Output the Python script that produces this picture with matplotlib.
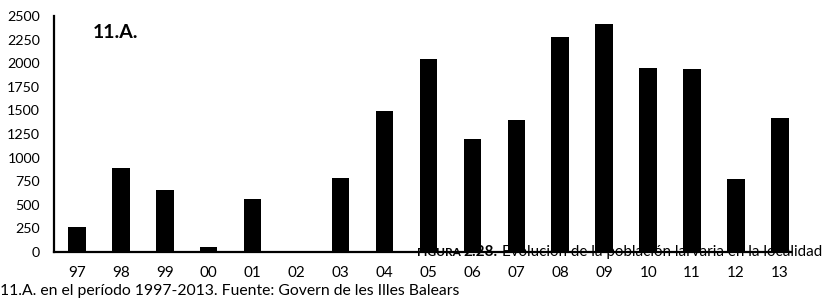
import matplotlib
matplotlib.use("Agg")
import matplotlib.pyplot as plt

categories = ["97", "98", "99", "00", "01", "02", "03", "04", "05", "06",
              "07", "08", "09", "10", "11", "12", "13"]
values = [265, 893, 653, 50, 558, 0, 781, 1494, 2041, 1200,
          1395, 2278, 2412, 1952, 1935, 773, 1419]
yticks = [0, 250, 500, 750, 1000, 1250, 1500, 1750, 2000, 2250, 2500]

FONT = "Lato"
W, H = 824, 299
fig = plt.figure(figsize=(W / 100, H / 100), dpi=100)
left, right, top, bottom = 54, 791, 16, 252
ax = fig.add_axes([left / W, 1 - bottom / H, (right - left) / W, (bottom - top) / H])
ax.patch.set_visible(False)

x = list(range(len(categories)))
ax.bar(x, values, width=0.4, color="black", zorder=3)
ax.set_xlim(-0.52, 16.25)
ax.set_ylim(0, 2500)
ax.set_yticks(yticks)
ax.set_yticklabels([str(v) for v in yticks], fontfamily=FONT, fontsize=10.3)
ax.set_xticks(x)
ax.set_xticklabels(categories, fontfamily=FONT, fontsize=11)
ax.tick_params(axis="y", length=0, pad=10)
ax.tick_params(axis="x", length=0, pad=10)
for s in ["top", "right"]:
    ax.spines[s].set_visible(False)
for s in ["left", "bottom"]:
    ax.spines[s].set_linewidth(1.6)
    ax.spines[s].set_zorder(4)

fig.text(93 / W, 1 - 33 / H, "11.A.", fontfamily=FONT,
         fontweight="bold", fontsize=14, va="center", ha="left")

# caption (drawn behind the bars)
fig.canvas.draw()
r = fig.canvas.get_renderer()
cy = 1 - 256 / H
t3 = fig.text(822 / W, cy, "Evolución de la población larvaria en la localidad",
              fontfamily=FONT, fontsize=10.9, ha="right", va="baseline", zorder=-1)
bb = t3.get_window_extent(r)
t2 = fig.text((bb.x0 - 4) / W, cy, "2.28.", fontfamily=FONT, fontsize=11,
              fontweight="bold", ha="right", va="baseline", zorder=-1)
bb2 = t2.get_window_extent(r)
fig.text((bb2.x0 - 3) / W, cy, "FIGURA", fontfamily=FONT, fontsize=8.6,
         fontweight="bold", ha="right", va="baseline", zorder=-1)
fig.text(0.0, 1 - 291 / H, "11.A. en el período 1997-2013. Fuente: Govern de les Illes Balears",
         fontfamily=FONT, fontsize=11.3, ha="left", va="center")

fig.savefig("out.png", dpi=100)
